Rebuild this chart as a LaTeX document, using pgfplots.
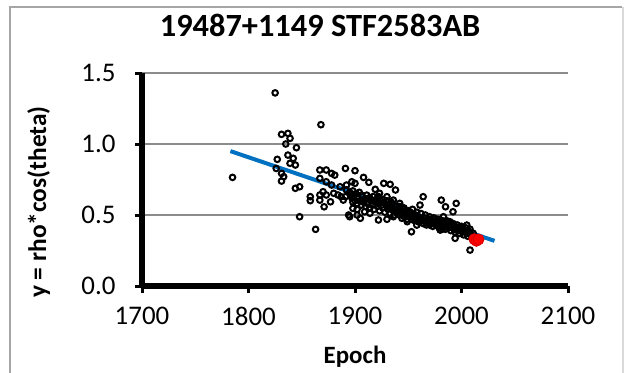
\documentclass[border=0pt]{standalone}
\usepackage{pgfplots}
\pgfplotsset{compat=1.18}
\usepackage{pgfplotstable}
\usepackage{fontspec}
\setmainfont{Carlito}
\definecolor{trendblue}{HTML}{0070C0}
\definecolor{gridgray}{HTML}{8C8C8C}

\pgfplotstableread{
x y
1785 0.765
1825 1.36
1868 1.136
1831 1.068
1837 1.075
1839 1.04
1835 1.00
1845 0.974
1827 0.892
1837 0.922
1842 0.899
1839 0.864
1844 0.852
1826 0.828
1831 0.793
1833 0.77
1831 0.739
1844 0.688
1848 0.699
1858 0.629
1858 0.601
1848 0.488
1863 0.399
1867 0.817
1873 0.817
1878 0.793
1881 0.781
1891 0.828
1867 0.758
1873 0.734
1878 0.711
1886 0.699
1892 0.676
1867 0.641
1870 0.664
1873 0.641
1880 0.653
1884 0.641
1887 0.629
1867 0.605
1871 0.558
1877 0.593
1894 0.50
1900 0.812
1908 0.765
1913 0.73
1897 0.734
1900 0.723
1892 0.711
1889 0.605
1891 0.629
1927 0.723
1933 0.716
1938 0.676
1919 0.681
1923 0.653
1930 0.629
1936 0.605
1942 0.582
1898 0.547
1902 0.50
1905 0.477
1895 0.488
1909 0.523
1914 0.512
1922 0.465
1930 0.47
1936 0.488
1944 0.477
1949 0.453
1953 0.382
1958 0.429
1961 0.57
1964 0.629
1970 0.488
1977 0.429
1980 0.394
1981 0.605
1985 0.558
1983 0.488
1989 0.453
1992 0.523
1995 0.582
1994 0.336
1999 0.406
2005 0.429
2008 0.253
2011 0.371
1895 0.66
1896 0.64
1897 0.62
1898 0.67
1899 0.63
1900 0.60
1901 0.65
1902 0.58
1903 0.62
1904 0.66
1905 0.60
1906 0.57
1907 0.63
1908 0.59
1909 0.61
1910 0.56
1911 0.64
1912 0.58
1913 0.62
1914 0.55
1915 0.60
1916 0.57
1917 0.63
1918 0.54
1919 0.59
1920 0.61
1921 0.56
1922 0.58
1923 0.53
1924 0.60
1925 0.57
1926 0.55
1927 0.59
1928 0.52
1929 0.58
1930 0.56
1931 0.54
1932 0.57
1933 0.51
1934 0.55
1935 0.58
1936 0.53
1937 0.50
1938 0.56
1939 0.54
1940 0.52
1941 0.55
1942 0.50
1943 0.53
1944 0.51
1945 0.54
1946 0.49
1947 0.52
1948 0.50
1949 0.47
1950 0.51
1951 0.49
1952 0.52
1953 0.47
1954 0.50
1955 0.48
1956 0.46
1957 0.50
1958 0.47
1959 0.49
1960 0.45
1961 0.48
1962 0.51
1963 0.46
1964 0.44
1965 0.48
1966 0.46
1967 0.43
1968 0.47
1969 0.45
1970 0.47
1971 0.44
1972 0.46
1973 0.42
1974 0.45
1975 0.47
1976 0.43
1977 0.46
1978 0.44
1979 0.41
1980 0.45
1981 0.43
1982 0.46
1983 0.42
1984 0.44
1985 0.40
1986 0.43
1987 0.45
1988 0.41
1989 0.43
1990 0.39
1991 0.42
1992 0.44
1993 0.40
1994 0.38
1995 0.41
1996 0.43
1997 0.39
1998 0.37
1999 0.40
2000 0.42
2001 0.38
2002 0.36
2003 0.39
2004 0.41
2005 0.37
2006 0.35
2007 0.38
2008 0.40
2009 0.36
2010 0.35
1898 0.59
1902 0.54
1906 0.64
1910 0.61
1914 0.62
1918 0.60
1922 0.63
1926 0.61
1930 0.60
1934 0.59
1938 0.52
1942 0.56
1946 0.55
1950 0.53
1954 0.54
1958 0.52
1962 0.47
1966 0.50
1970 0.43
1974 0.48
1978 0.47
1982 0.40
1986 0.46
1990 0.44
1994 0.42
1998 0.41
2002 0.40
2006 0.39
}\obsdata

\begin{document}
\begin{tikzpicture}[x=1bp,y=1bp]
\path[use as bounding box] (0,0) rectangle (624,-372);
\draw[gray!70, line width=2bp] (10,-400) -- (10,-6.7) -- (622,-6.7);
\draw[gray!30, line width=2bp] (623,-6.7) -- (623,-400);
\begin{axis}[
  at={(142bp,-286bp)}, anchor=south west,
  scale only axis, width=426bp, height=213bp,
  xmin=1700, xmax=2100, ymin=0, ymax=1.5,
  xtick={1700,1800,1900,2000,2100},
  ytick={0,0.5,1,1.5},
  axis x line=bottom, axis y line=left,
  axis line style={-, line width=6bp, black},
  tick align=outside, major tick length=7bp,
  tick style={line width=3bp, black},
  ymajorgrids, grid style={gridgray, line width=2bp},
  /pgf/number format/assume math mode=true,
  ticklabel style={font=\fontsize{27}{32}\selectfont},
  xticklabel style={/pgf/number format/1000 sep={}, yshift=-11bp},
  yticklabel style={/pgf/number format/.cd, fixed, fixed zerofill, precision=1, /tikz/xshift=-16bp},
  title={\textbf{19487+1149 STF2583AB}},
  title style={font=\fontsize{32.5}{38}\selectfont, at={(axis description cs:0.418,1.141)}, anchor=base},
  xlabel={\textbf{Epoch}},
  xlabel style={font=\fontsize{25}{30}\selectfont, at={(axis description cs:0.5,-0.363)}, anchor=base},
  ylabel={\textbf{y = rho*cos(theta)}},
  ylabel style={font=\fontsize{25.5}{30}\selectfont, at={(axis description cs:-0.225,0.394)}, anchor=base, rotate=0},
  clip=false,
]
\addplot[only marks, mark=o, mark size=2.8bp, mark options={line width=2bp, black}] table[x=x,y=y] {\obsdata};
\addplot[no marks, trendblue, line width=4bp] coordinates {(1783,0.950) (2031,0.318)};
\addplot[only marks, mark=*, mark size=5.5bp, mark options={fill=red, draw=red!85!black, line width=0.8bp}] coordinates {(2012,0.330) (2014,0.318) (2016,0.328)};
\end{axis}
\end{tikzpicture}
\end{document}
